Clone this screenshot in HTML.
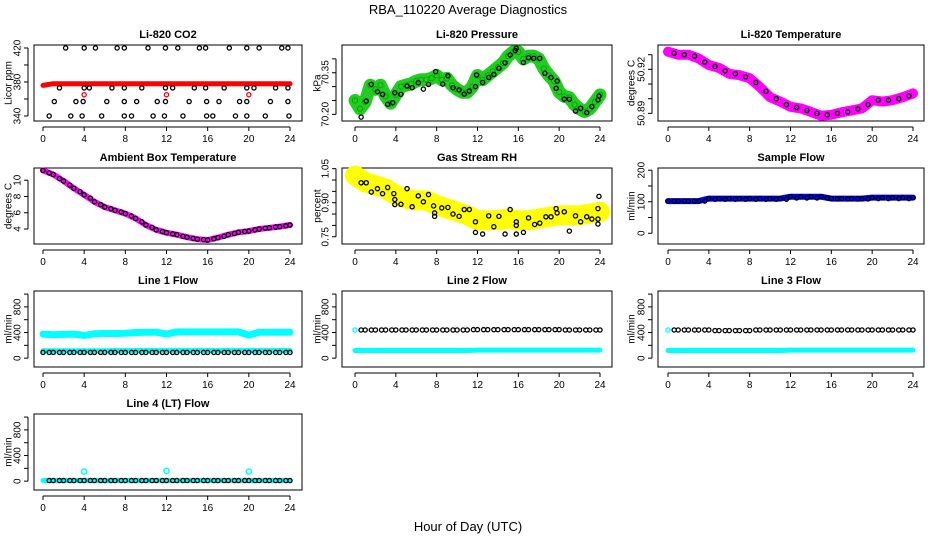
<!DOCTYPE html>
<html><head><meta charset="utf-8">
<style>
html,body{margin:0;padding:0;background:#fff;}
svg{display:block;font-family:"Liberation Sans",Arial,sans-serif;}
</style></head>
<body>
<svg id="chart" width="936" height="540" viewBox="0 0 936 540">
<text x="468" y="14" text-anchor="middle" font-size="13">RBA_110220  Average Diagnostics</text>
<text x="468" y="531" text-anchor="middle" font-size="13">Hour of Day (UTC)</text>
</svg>
<script>
// ---- data ----
const hours = [0,1,2,3,4,5,6,7,8,9,10,11,12,13,14,15,16,17,18,19,20,21,22,23,24];
const halfHours = [0,0.5,1,1.5,2,2.5,3,3.5,4,4.5,5,5.5,6,6.5,7,7.5,8,8.5,9,9.5,10,10.5,11,11.5,12,12.5,13,13.5,14,14.5,15,15.5,16,16.5,17,17.5,18,18.5,19,19.5,20,20.5,21,21.5,22,22.5,23,23.5,24];
const blackHours = [0.6,1.6,2.6,3.6,4.6,5.6,6.6,7.6,8.6,9.6,10.6,11.6,12.6,13.6,14.6,15.6,16.6,17.6,18.6,19.6,20.6,21.6,22.6,23.6];
const xTicks = [0,4,8,12,16,20,24];

const co2Red = [376,378,378,378,378,378,378,378,378,378,378,378,378,378,378,378,378,378,378,378,378,378,378,378,378];
const co2RedOutT = [4,12,20];
const co2RedOutV = [365,365,365];
const co2BlackT = [2.2,4.0,5.1,7.2,7.9,10.2,11.9,13.1,15.2,15.8,18.1,19.8,21.0,23.2,23.8,
  1.6,4.0,4.5,6.7,7.9,9.6,11.9,12.6,14.7,15.8,17.6,19.8,20.5,22.6,23.8,
  1.1,3.2,3.9,6.2,7.9,9.1,11.1,11.9,14.2,15.9,17.1,19.1,19.8,22.1,23.8,
  0.6,2.7,3.8,5.7,7.9,8.6,10.7,11.8,13.6,15.9,16.5,18.7,19.8,21.6,23.9];
const co2BlackV = [420,420,420,420,420,420,420,420,420,420,420,420,420,420,420,
  373,373,373,373,373,373,373,373,373,373,373,373,373,373,373,
  357,357,357,357,357,357,357,357,357,357,357,357,357,357,357,
  340,340,340,340,340,340,340,340,340,340,340,340,340,340,340];

const presGreen = [70.25,70.22,70.245,70.305,70.29,70.305,70.265,70.24,70.27,70.30,70.305,70.31,70.32,70.325,70.325,70.33,70.34,70.325,70.33,70.305,70.29,70.28,70.28,70.30,70.34,70.325,70.34,70.355,70.37,70.385,70.41,70.425,70.425,70.40,70.41,70.41,70.40,70.365,70.34,70.32,70.28,70.265,70.26,70.235,70.22,70.21,70.22,70.245,70.27];
const presBlackT = [0.6,1.1,1.6,2.2,2.7,3.2,3.7,3.9,4.5,5.1,5.6,6.2,6.7,7.2,7.9,8.6,9.1,9.6,10.2,10.7,11.2,11.8,11.9,12.5,13.1,13.6,14.1,14.7,15.2,15.7,15.8,16.5,17.0,17.5,18.1,18.6,19.2,19.8,19.7,20.5,21.0,21.6,22.1,22.7,23.2,23.8,23.9];
const presBlackV = [70.19,70.248,70.308,70.282,70.272,70.236,70.242,70.278,70.272,70.302,70.296,70.314,70.291,70.308,70.354,70.309,70.339,70.296,70.288,70.273,70.284,70.30,70.342,70.315,70.333,70.344,70.366,70.386,70.414,70.43,70.438,70.387,70.404,70.402,70.402,70.348,70.333,70.32,70.294,70.255,70.254,70.212,70.222,70.206,70.228,70.252,70.266];

const tempMag = [50.932,50.930,50.930,50.9275,50.923,50.921,50.917,50.916,50.914,50.908,50.901,50.898,50.8945,50.8934,50.891,50.8884,50.889,50.8907,50.892,50.8934,50.899,50.898,50.899,50.901,50.9036];
const tempBlack = [50.931,50.930,50.929,50.925,50.922,50.919,50.917,50.915,50.911,50.905,50.900,50.896,50.894,50.892,50.890,50.889,50.890,50.891,50.893,50.896,50.899,50.899,50.900,50.902];

const ambMag = [11.2,10.7,9.9,9.0,8.2,7.35,6.7,6.3,5.9,5.3,4.5,3.9,3.55,3.3,3.0,2.75,2.65,2.95,3.3,3.6,3.75,4.0,4.15,4.3,4.5];
const ambBlack = [10.9,10.2,9.4,8.6,7.8,7.0,6.5,6.1,5.6,4.9,4.2,3.7,3.4,3.1,2.85,2.7,2.8,3.1,3.45,3.7,3.9,4.1,4.25,4.4];

const rhYellow = [1.02,0.99,0.977,0.962,0.933,0.918,0.91,0.91,0.89,0.874,0.86,0.845,0.823,0.823,0.823,0.83,0.823,0.823,0.83,0.838,0.845,0.845,0.845,0.852,0.86];
const rhBlackT = [0.6,1.1,1.6,2.2,2.7,3.2,3.8,3.9,3.9,4.5,5.1,5.6,6.2,6.7,7.2,7.7,7.8,7.8,8.5,9.1,9.6,10.2,10.7,11.2,11.8,11.8,12.5,13.1,13.6,14.1,14.7,15.2,15.8,15.8,15.8,16.5,17.0,17.6,18.1,18.7,19.2,19.7,19.8,20.5,21.0,21.6,22.1,22.7,23.2,23.8,23.8,23.9,23.8];
const rhBlackV = [0.988,0.988,0.947,0.962,0.94,0.967,0.94,0.914,0.892,0.893,0.962,0.882,0.93,0.904,0.936,0.886,0.855,0.84,0.877,0.879,0.85,0.84,0.87,0.87,0.816,0.769,0.762,0.842,0.794,0.84,0.762,0.87,0.816,0.80,0.762,0.769,0.833,0.804,0.81,0.838,0.838,0.874,0.855,0.86,0.775,0.842,0.816,0.838,0.828,0.828,0.874,0.928,0.806];

const sampleBlue = [102,102,102,102,110,110,110,110,110,110,110,110,116,116,116,116,110,110,110,110,113,113,113,113,113];
const sampleBlack = [102,102,102,102,108,108,108,108,108,108,108,108,112,112,112,112,109,109,109,109,110,110,110,110];

const line1CyanHigh = [375,365,370,375,355,380,385,385,390,400,405,405,375,410,410,410,410,410,410,410,360,405,405,405,405];
const line1CyanLow = [115,115,115,115,115,115,115,120,120,120,120,120,120,120,120,120,120,120,120,120,120,120,120,120,120];
const line1Black = [90,90,90,90,90,90,90,90,90,90,90,90,90,90,90,90,90,90,90,90,90,90,90,90];
const line2Cyan = [120,120,120,120,120,120,120,120,120,120,120,120,125,125,125,125,125,125,125,125,125,125,125,125,125];
const line2Black = [440,440,440,440,440,440,440,440,440,440,440,445,445,445,445,445,445,445,445,445,440,440,440,440];
const line3Cyan = [120,120,120,120,120,120,120,120,120,120,120,120,125,125,125,125,125,125,125,125,125,125,125,125,125];
const line3Black = [440,440,440,440,430,430,430,430,440,440,440,440,440,440,440,440,440,440,440,440,440,440,440,440];
const line4Cyan = [10,10,10,10,10,10,10,10,10,10,10,10,10,10,10,10,10,10,10,10,10,10,10,10,10];
const line4OutT = [4,12,20];
const line4OutV = [150,160,150];
const line4Black = [10,10,10,10,10,10,10,10,10,10,10,10,10,10,10,10,10,10,10,10,10,10,10,10];

// ---- layout ----
const NS = "http://www.w3.org/2000/svg";
const svg = document.getElementById('chart');
const cols = [{l:34,r:302,x0:43,x24:290,lab:9},{l:342,r:612,x0:355,x24:600,lab:318},{l:658,r:924,x0:668,x24:913,lab:632}];
const rows = [45,168,291,414];
const BH = 76;

function mk(tag, attrs, parent){
  const e = document.createElementNS(NS, tag);
  for (const k in attrs) e.setAttribute(k, attrs[k]);
  (parent||svg).appendChild(e);
  return e;
}

function makePanel(name, title, ylab, ci, ri, ymin, ymax, yTicks, yLabels){
  const c = cols[ci], top = rows[ri], bot = top + BH;
  const g = mk('g', {});
  
  
  const xs = t => c.x0 + (c.x24 - c.x0) * t / 24;
  const ys = v => bot - (v - ymin) / (ymax - ymin) * BH;
  const box = mk('rect', {x:c.l, y:top, width:c.r-c.l, height:BH, fill:'none', stroke:'#000', 'stroke-width':1}, g);
  
  
  const tt = mk('text', {x:(c.l+c.r)/2, y:top-7, 'text-anchor':'middle', 'font-size':11, 'font-weight':'bold'}, g);
  tt.textContent = title;
  
  
  const yl = mk('text', {x:c.lab, y:top+BH/2, 'text-anchor':'middle', 'font-size':10, transform:`rotate(-90 ${c.lab} ${top+BH/2})`, 'dominant-baseline':'middle'}, g);
  yl.textContent = ylab;
  
  
  mk('line', {x1:xs(0), x2:xs(24), y1:bot+6, y2:bot+6, stroke:'#000'}, g);
  xTicks.forEach(t => {
    mk('line', {x1:xs(t), x2:xs(t), y1:bot+6, y2:bot+10, stroke:'#000'}, g);
    const tx = mk('text', {x:xs(t), y:bot+21, 'text-anchor':'middle', 'font-size':10}, g);
    tx.textContent = t;
    
    
  });
  const yt0 = yTicks[0], yt1 = yTicks[yTicks.length-1];
  mk('line', {x1:c.l-6, x2:c.l-6, y1:ys(yt0), y2:ys(yt1), stroke:'#000'}, g);
  yTicks.forEach((v, i) => {
    mk('line', {x1:c.l-10, x2:c.l-6, y1:ys(v), y2:ys(v), stroke:'#000'}, g);
    if (yLabels[i] !== '') {
      const lx = c.l - 16;
      const ty = mk('text', {x:lx, y:ys(v), 'text-anchor':'middle', 'font-size':10, 'dominant-baseline':'middle', transform:`rotate(-90 ${lx} ${ys(v)})`}, g);
      ty.textContent = yLabels[i];
      
      
    }
  });
  const plot = mk('g', {}, g);
  return {xs, ys, plot, name};
}

function band(p, ts, vs, color, width, label){
  const pts = ts.map((t, i) => p.xs(t).toFixed(1) + ',' + p.ys(vs[i]).toFixed(1)).join(' ');
  const pl = mk('polyline', {points:pts, fill:'none', stroke:color, 'stroke-width':width, 'stroke-linecap':'round', 'stroke-linejoin':'round'}, p.plot);
  
  
}
function points(p, ts, vs, color, label, r, sw){
  ts.forEach((t, i) => {
    const c = mk('circle', {cx:p.xs(t), cy:p.ys(vs[i]), r:r||2.1, fill:'none', stroke:color, 'stroke-width':sw||1.3}, p.plot);
    
    
  });
}

let p = makePanel('co2', 'Li-820 CO2', 'Licor ppm', 0, 0, 334.1, 423.5, [340,360,380,400,420], ['340','','380','','420']);
band(p, hours, co2Red, '#ff0000', 5, 'red');
points(p, co2RedOutT, co2RedOutV, '#ff0000', 'red-outlier');
points(p, co2BlackT, co2BlackV, '#000', 'black');

p = makePanel('pressure', 'Li-820 Pressure', 'kPa', 1, 0, 70.176, 70.45, [70.20,70.25,70.30,70.35,70.40], ['70.20','','','70.35','']);
band(p, halfHours, presGreen, '#22cc22', 13, 'green');
points(p, halfHours, presGreen, '#00aa00', 'green', 2.6, 1);
points(p, presBlackT, presBlackV, '#000', 'black');

p = makePanel('li820-temp', 'Li-820 Temperature', 'degrees C', 2, 0, 50.8848, 50.9366, [50.89,50.90,50.91,50.92,50.93], ['50.89','','','50.92','']);
band(p, hours, tempMag, '#ff00ff', 10, 'magenta');
points(p, blackHours, tempBlack, '#000', 'black');

p = makePanel('ambient-temp', 'Ambient Box Temperature', 'degrees C', 0, 1, 2.16, 11.5, [4,6,8,10], ['4','6','8','10']);
band(p, hours, ambMag, '#ff00ff', 6, 'magenta');
points(p, hours, ambMag, '#000', 'black-a');
points(p, blackHours, ambBlack, '#000', 'black');

p = makePanel('gas-rh', 'Gas Stream RH', 'percent', 1, 1, 0.718, 1.053, [0.75,0.80,0.85,0.90,0.95,1.00,1.05], ['0.75','','','0.90','','','1.05']);
band(p, hours, rhYellow, '#ffff00', 20, 'yellow');
points(p, rhBlackT, rhBlackV, '#000', 'black');

p = makePanel('sample-flow', 'Sample Flow', 'ml/min', 2, 1, -34, 207, [0,50,100,150,200], ['0','','100','','200']);
band(p, hours, sampleBlue, '#0000ff', 6, 'blue');
points(p, hours, sampleBlue, '#000', 'black-a');
points(p, blackHours, sampleBlack, '#000', 'black');

const fT = [0,200,400,600,800,1000], fL = ['0','','400','','800',''];
p = makePanel('line1-flow', 'Line 1 Flow', 'ml/min', 0, 2, -138, 1048, fT, fL);
band(p, hours, line1CyanHigh, '#00ffff', 7, 'cyan-high');
band(p, hours, line1CyanLow, '#00ffff', 5, 'cyan-low');
points(p, hours, line1Black.concat([90]), '#000', 'black-a');
points(p, blackHours, line1Black, '#000', 'black');

p = makePanel('line2-flow', 'Line 2 Flow', 'ml/min', 1, 2, -138, 1048, fT, fL);
band(p, hours, line2Cyan, '#00ffff', 5, 'cyan');
points(p, [0], [440], '#00ffff', 'cyan-start');
points(p, hours.slice(1), line2Black, '#000', 'black-a');
points(p, blackHours, line2Black, '#000', 'black');

p = makePanel('line3-flow', 'Line 3 Flow', 'ml/min', 2, 2, -138, 1048, fT, fL);
band(p, hours, line3Cyan, '#00ffff', 5, 'cyan');
points(p, [0], [440], '#00ffff', 'cyan-start');
points(p, hours.slice(1), line3Black, '#000', 'black-a');
points(p, blackHours, line3Black, '#000', 'black');

p = makePanel('line4-flow', 'Line 4 (LT) Flow', 'ml/min', 0, 3, -138, 1048, fT, fL);
band(p, hours, line4Cyan, '#00ffff', 5, 'cyan');
points(p, line4OutT, line4OutV, '#00ffff', 'cyan-outlier', 2.6, 1.5);
points(p, hours.slice(1), line4Black, '#000', 'black-a');
points(p, blackHours, line4Black, '#000', 'black');
</script>
</body></html>
